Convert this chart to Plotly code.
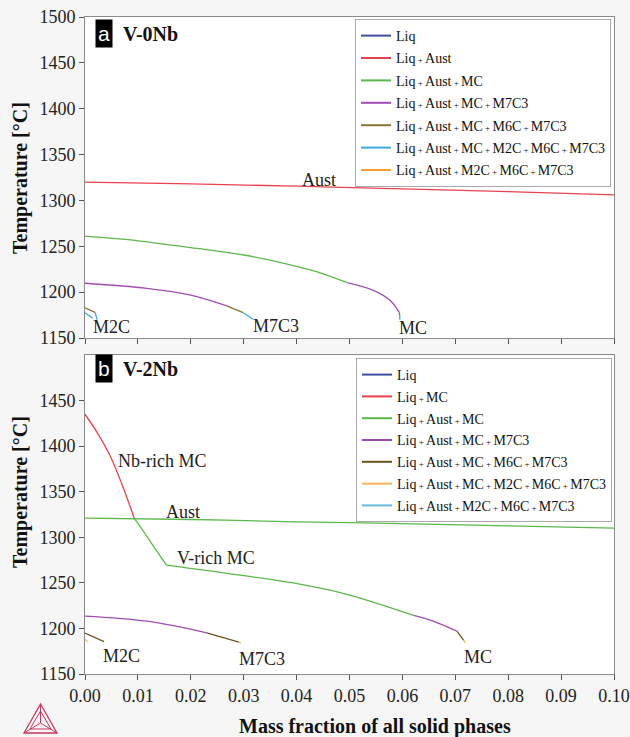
import plotly.graph_objects as go

# ---------------- data: panel a (V-0Nb) ----------------
a_aust_x = [0, 0.02, 0.04, 0.06, 0.08, 0.10]
a_aust_t = [1320, 1318, 1315.5, 1312.5, 1309.5, 1306]
a_mc_green_x = [0, 0.01, 0.02, 0.03, 0.04, 0.045, 0.0497]
a_mc_green_t = [1261, 1256, 1248.5, 1240.5, 1228, 1220, 1210]
a_mc_purple_x = [0.0497, 0.0545, 0.0577, 0.0594]
a_mc_purple_t = [1210, 1202, 1191, 1178]
a_mc_brown_x = [0.0594, 0.0595]
a_mc_brown_t = [1178, 1175]
a_mc_blue_x = [0.0595, 0.0595]
a_mc_blue_t = [1175, 1170]
a_m7c3_purple_x = [0, 0.0117, 0.0198, 0.0268]
a_m7c3_purple_t = [1209.7, 1204.2, 1197, 1185]
a_m7c3_brown_x = [0.0268, 0.0299]
a_m7c3_brown_t = [1185, 1177.6]
a_m7c3_blue_x = [0.0299, 0.0318]
a_m7c3_blue_t = [1177.6, 1170.4]
a_m2c_brown_x = [0, 0.0019]
a_m2c_brown_t = [1183, 1178]
a_m2c_blue1_x = [0.0019, 0.0023]
a_m2c_blue1_t = [1178, 1170]
a_m2c_blue2_x = [0, 0.00145]
a_m2c_blue2_t = [1177.6, 1171.5]

# ---------------- data: panel b (V-2Nb) ----------------
b_nbmc_x = [0, 0.0025, 0.0047, 0.007, 0.0093]
b_nbmc_t = [1435, 1413, 1390, 1358, 1321]
b_aust_x = [0, 0.02, 0.04, 0.06, 0.08, 0.10]
b_aust_t = [1321, 1319.5, 1317, 1315, 1312.5, 1310]
b_vmc_x = [0.0093, 0.011, 0.0129, 0.0154]
b_vmc_t = [1321, 1307, 1290.6, 1269.4]
b_mc_green_x = [0.0154, 0.0293, 0.0406, 0.0495, 0.0621]
b_mc_green_t = [1269.4, 1258.4, 1248.5, 1237.4, 1214.3]
b_mc_purple_x = [0.0621, 0.0658, 0.0703]
b_mc_purple_t = [1214.3, 1208, 1197]
b_mc_brown_x = [0.0703, 0.0716]
b_mc_brown_t = [1197, 1187]
b_mc_orange_x = [0.0716, 0.0719]
b_mc_orange_t = [1187, 1184.2]
b_m7c3_purple_x = [0, 0.0117, 0.023]
b_m7c3_purple_t = [1213.6, 1208, 1195.2]
b_m7c3_brown_x = [0.023, 0.0291]
b_m7c3_brown_t = [1195.2, 1185]
b_m7c3_orange_x = [0.0291, 0.0295]
b_m7c3_orange_t = [1185, 1184]
b_m2c_brown_x = [0, 0.0036]
b_m2c_brown_t = [1195, 1185.5]
b_m2c_orange_x = [0, 0.0005]
b_m2c_orange_t = [1188, 1185.5]

x_ticks = [0.00, 0.01, 0.02, 0.03, 0.04, 0.05, 0.06, 0.07, 0.08, 0.09, 0.10]
a_y_ticks = [1150, 1200, 1250, 1300, 1350, 1400, 1450, 1500]
b_y_ticks = [1150, 1200, 1250, 1300, 1350, 1400, 1450]

P = "<span style='font-size:9px'> + </span>"
a_legend_names = ["Liq", "Liq" + P + "Aust", "Liq" + P + "Aust" + P + "MC",
                  "Liq" + P + "Aust" + P + "MC" + P + "M7C3",
                  "Liq" + P + "Aust" + P + "MC" + P + "M6C" + P + "M7C3",
                  "Liq" + P + "Aust" + P + "MC" + P + "M2C" + P + "M6C" + P + "M7C3",
                  "Liq" + P + "Aust" + P + "M2C" + P + "M6C" + P + "M7C3"]
b_legend_names = ["Liq", "Liq" + P + "MC", "Liq" + P + "Aust" + P + "MC",
                  "Liq" + P + "Aust" + P + "MC" + P + "M7C3",
                  "Liq" + P + "Aust" + P + "MC" + P + "M6C" + P + "M7C3",
                  "Liq" + P + "Aust" + P + "MC" + P + "M2C" + P + "M6C" + P + "M7C3",
                  "Liq" + P + "Aust" + P + "M2C" + P + "M6C" + P + "M7C3"]

# colours
BLUE_D = "#3f4c9e"
RED = "#e8434d"
GREEN = "#5cb84a"
PURPLE = "#a24cb3"
BROWN_A = "#857436"
LBLUE_A = "#3ea6e0"
ORANGE_A = "#f4a12e"
BROWN_B = "#6b5423"
ORANGE_B = "#f7b35e"
LBLUE_B = "#6cb6de"

a_legend_colors = [BLUE_D, RED, GREEN, PURPLE, BROWN_A, LBLUE_A, ORANGE_A]
b_legend_colors = [BLUE_D, RED, GREEN, PURPLE, BROWN_B, ORANGE_B, LBLUE_B]

FONT = "Liberation Serif, Times New Roman, Times, serif"
fig = go.Figure()

# legend entries
for i, (n, c) in enumerate(zip(a_legend_names, a_legend_colors)):
    fig.add_trace(go.Scatter(x=[None], y=[None], mode="lines", name=n,
                             line=dict(color=c, width=2), legend="legend",
                             legendgroup=f"a{i}",
                             xaxis="x", yaxis="y", hoverinfo="skip"))
for i, (n, c) in enumerate(zip(b_legend_names, b_legend_colors)):
    fig.add_trace(go.Scatter(x=[None], y=[None], mode="lines", name=n,
                             line=dict(color=c, width=2), legend="legend2",
                             legendgroup=f"b{i}",
                             xaxis="x2", yaxis="y2", hoverinfo="skip"))


def seg(x, t, color, panel, smooth=False):
    ax = dict(xaxis="x", yaxis="y") if panel == "a" else dict(xaxis="x2", yaxis="y2")
    fig.add_trace(go.Scatter(x=x, y=t, mode="lines", showlegend=False,
                             line=dict(color=color, width=1.3,
                                       shape="spline" if smooth else "linear"),
                             **ax))


# panel a
seg(a_aust_x, a_aust_t, RED, "a", True)
seg(a_mc_green_x, a_mc_green_t, GREEN, "a", True)
seg(a_mc_purple_x, a_mc_purple_t, PURPLE, "a", True)
seg(a_mc_brown_x, a_mc_brown_t, BROWN_A, "a")
seg(a_mc_blue_x, a_mc_blue_t, LBLUE_A, "a")
seg(a_m7c3_purple_x, a_m7c3_purple_t, PURPLE, "a", True)
seg(a_m7c3_brown_x, a_m7c3_brown_t, BROWN_A, "a")
seg(a_m7c3_blue_x, a_m7c3_blue_t, LBLUE_A, "a")
seg(a_m2c_brown_x, a_m2c_brown_t, BROWN_A, "a")
seg(a_m2c_blue1_x, a_m2c_blue1_t, LBLUE_A, "a")
seg(a_m2c_blue2_x, a_m2c_blue2_t, LBLUE_A, "a")

# panel b
seg(b_nbmc_x, b_nbmc_t, RED, "b", True)
seg(b_aust_x, b_aust_t, GREEN, "b", True)
seg(b_vmc_x, b_vmc_t, GREEN, "b", True)
seg(b_mc_green_x, b_mc_green_t, GREEN, "b", True)
seg(b_mc_purple_x, b_mc_purple_t, PURPLE, "b", True)
seg(b_mc_brown_x, b_mc_brown_t, BROWN_B, "b")
seg(b_mc_orange_x, b_mc_orange_t, ORANGE_B, "b")
seg(b_m7c3_purple_x, b_m7c3_purple_t, PURPLE, "b", True)
seg(b_m7c3_brown_x, b_m7c3_brown_t, BROWN_B, "b")
seg(b_m7c3_orange_x, b_m7c3_orange_t, ORANGE_B, "b")
seg(b_m2c_brown_x, b_m2c_brown_t, BROWN_B, "b")
seg(b_m2c_orange_x, b_m2c_orange_t, ORANGE_B, "b")

# geometry (pixels) for paper-coordinate helpers
L, R, T, B = 85, 16, 17, 63
W, H = 630, 737
PW, PH = W - L - R, H - T - B


def px(xp):
    return (xp - L) / PW


def py(yp):
    return (H - B - yp) / PH


axis_common = dict(showline=True, linecolor="#8a8a8a", linewidth=1, mirror=True,
                   ticks="outside", ticklen=5, tickcolor="#555", showgrid=False,
                   zeroline=False, automargin=False,
                   tickfont=dict(family=FONT, size=18, color="#222"))

top_bottom = py(338)
bot_top = py(355)

fig.update_layout(
    width=W, height=H,
    margin=dict(l=L, r=R, t=T, b=B, autoexpand=False),
    paper_bgcolor="#f6f6f6", plot_bgcolor="white",
    font=dict(family=FONT, color="#222"),
    xaxis=dict(domain=[0, 1], anchor="y", range=[0, 0.1], tickvals=x_ticks,
               showticklabels=False, **axis_common),
    yaxis=dict(domain=[top_bottom, 1], anchor="x", range=[1150, 1500],
               tickvals=a_y_ticks, **axis_common),
    xaxis2=dict(domain=[0, 1], anchor="y2", range=[0, 0.1], tickvals=x_ticks,
                tickformat=".2f", **axis_common),
    yaxis2=dict(domain=[0, bot_top], anchor="x2", range=[1150, 1500],
                tickvals=b_y_ticks, **axis_common),
    legend=dict(x=px(611), y=py(19), xanchor="right", yanchor="top",
                bgcolor="white", bordercolor="#aaaaaa", borderwidth=1,
                font=dict(family=FONT, size=14, color="#111"), itemwidth=30,
                tracegroupgap=1.2),
    legend2=dict(x=px(612), y=py(358), xanchor="right", yanchor="top",
                 bgcolor="white", bordercolor="#aaaaaa", borderwidth=1,
                 font=dict(family=FONT, size=14, color="#111"), itemwidth=30,
                 tracegroupgap=0.6),
    showlegend=True,
)

ann = []
# panel tags
for tag, title, yc in [("a", "V-0Nb", 33.5), ("b", "V-2Nb", 368)]:
    ann.append(dict(x=px(104), y=py(yc), xref="paper", yref="paper", text=tag,
                    showarrow=False, bgcolor="black", borderpad=2,
                    font=dict(family="Liberation Sans, Arial, sans-serif", size=21,
                              color="white"),
                    xanchor="center", yanchor="middle"))
    ann.append(dict(x=px(121), y=py(yc + 1), xref="paper", yref="paper",
                    text="<b>" + title + "</b>", showarrow=False,
                    font=dict(family=FONT, size=20, color="#111"),
                    xanchor="left", yanchor="middle"))

# curve labels
labels_a = [("Aust", 0.0443, 1322), ("M2C", 0.0051, 1162), ("M7C3", 0.0361, 1163),
            ("MC", 0.062, 1161)]
labels_b = [("Nb-rich MC", 0.0147, 1384), ("Aust", 0.0185, 1328),
            ("V-rich MC", 0.0248, 1277), ("M2C", 0.0069, 1170),
            ("M7C3", 0.0335, 1166), ("MC", 0.0743, 1169)]
for t, x, y in labels_a:
    ann.append(dict(x=x, y=y, xref="x", yref="y", text=t, showarrow=False,
                    font=dict(family=FONT, size=18, color="#222")))
for t, x, y in labels_b:
    ann.append(dict(x=x, y=y, xref="x2", yref="y2", text=t, showarrow=False,
                    font=dict(family=FONT, size=18, color="#222")))

# axis titles
for yc in [178, 492]:
    ann.append(dict(x=px(20), y=py(yc), xref="paper", yref="paper",
                    text="<b>Temperature [°C]</b>", textangle=-90, showarrow=False,
                    font=dict(family=FONT, size=20, color="#111"),
                    xanchor="center", yanchor="middle"))
ann.append(dict(x=px(375), y=py(726), xref="paper", yref="paper",
                text="<b>Mass fraction of all solid phases</b>", showarrow=False,
                font=dict(family=FONT, size=20, color="#111"),
                xanchor="center", yanchor="middle"))
fig.update_layout(annotations=ann)

# logo (decorative)
LOGO = "#c8375a"


def path(pts, close=True):
    s = "M " + " L ".join(f"{px(a):.4f},{py(b):.4f}" for a, b in pts)
    return s + (" Z" if close else "")


shapes = [
    dict(type="path", xref="paper", yref="paper",
         path=path([(24, 733), (57, 733), (40.5, 704)]), line=dict(color=LOGO, width=1.3)),
    dict(type="path", xref="paper", yref="paper",
         path=path([(30, 729), (51, 729), (40.5, 711)]), line=dict(color=LOGO, width=1)),
    dict(type="path", xref="paper", yref="paper",
         path=path([(24, 733), (40.5, 723), (57, 733)], close=False), line=dict(color=LOGO, width=1)),
    dict(type="path", xref="paper", yref="paper",
         path=path([(40.5, 704), (40.5, 723)], close=False), line=dict(color=LOGO, width=1)),
]
fig.update_layout(shapes=shapes)

fig.write_html("out.html",
               config={"displayModeBar": False},
               post_script="document.body.style.margin='0px';"
                           "document.body.style.background='#f6f6f6';")
